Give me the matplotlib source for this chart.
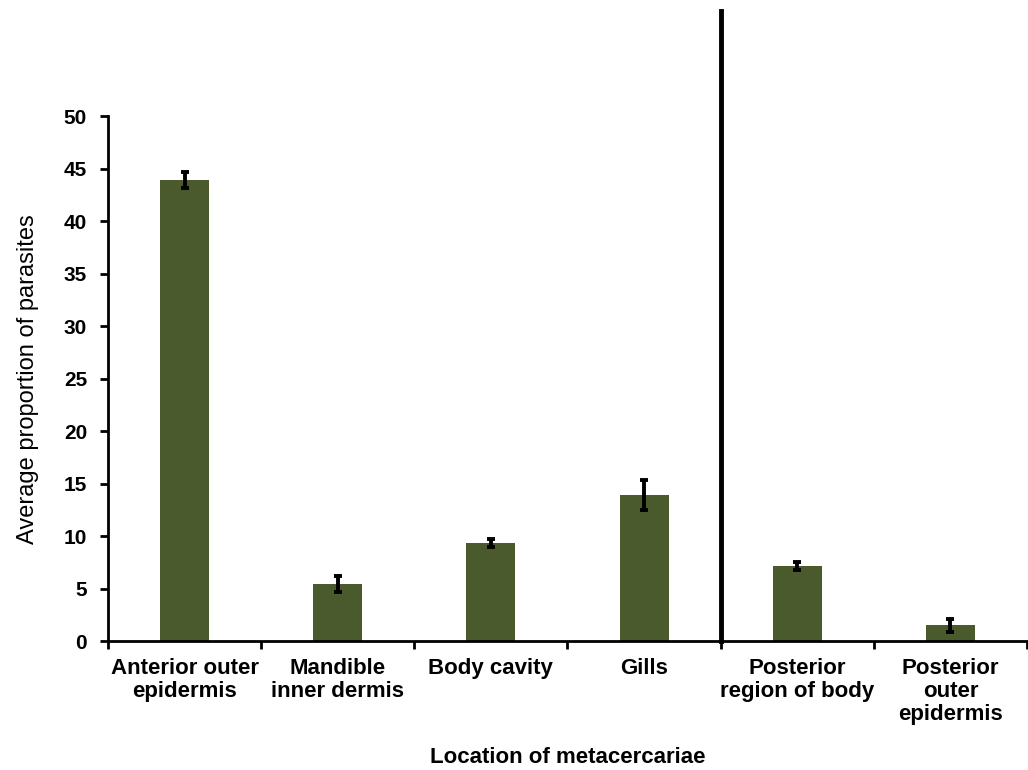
import matplotlib
matplotlib.use("Agg")
import matplotlib.pyplot as plt
import numpy as np

categories = ["Anterior outer\nepidermis", "Mandible\ninner dermis", "Body cavity",
              "Gills", "Posterior\nregion of body", "Posterior\nouter\nepidermis"]
values = [43.9, 5.4, 9.35, 13.9, 7.15, 1.5]
errors = [0.75, 0.75, 0.4, 1.4, 0.4, 0.6]
yticks = [0, 5, 10, 15, 20, 25, 30, 35, 40, 45, 50]

plt.rcParams['font.family'] = ['Liberation Sans', 'DejaVu Sans']

fig = plt.figure(figsize=(10.28, 7.7), dpi=100)
ax = fig.add_axes([0.105, 0.1675, 0.894, 0.6815])

x = np.arange(len(categories))
ax.bar(x, values, width=0.32, color="#4a5a2c", zorder=2)
ax.errorbar(x, values, yerr=errors, fmt="none", ecolor="black", elinewidth=2.8,
            capsize=3, capthick=2.8, zorder=3)

ax.set_xlim(-0.5, len(categories) - 0.5)
ax.set_ylim(0, 50)
ax.set_yticks(yticks)
ax.set_yticklabels([str(t) for t in yticks], fontsize=15, fontweight="bold")

ax.set_xticks(x)
ax.set_xticklabels(categories, fontsize=16, fontweight="bold", linespacing=1.12)
ax.tick_params(axis="x", length=0, pad=12)
ax.set_xticks(np.arange(-0.5, len(categories), 1.0), minor=True)
ax.tick_params(axis="x", which="minor", length=6, width=2, direction="out")
ax.tick_params(axis="y", length=6, width=2, direction="out", pad=9)

for side in ["top", "right"]:
    ax.spines[side].set_visible(False)
for side in ["left", "bottom"]:
    ax.spines[side].set_linewidth(2)

ax.axvline(3.5, ymin=0, ymax=1.2, color="black", linewidth=3.5, clip_on=False, zorder=4)

ax.set_ylabel("Average proportion of parasites", fontsize=17, labelpad=18)
ax.set_xlabel("Location of metacercariae", fontsize=16, fontweight="bold", labelpad=16)

fig.savefig("out.png", dpi=100)
